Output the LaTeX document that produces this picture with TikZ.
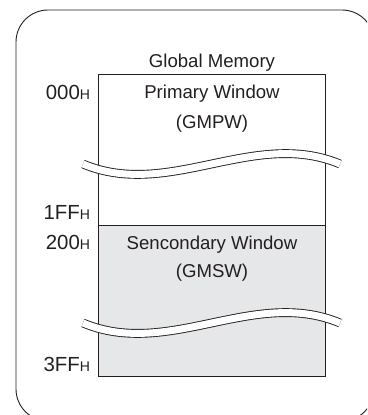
\documentclass[tikz,border=0pt]{standalone}
\usepackage{fontspec}
\setmainfont{Liberation Sans}
\usetikzlibrary{positioning}
\definecolor{ink}{HTML}{231F20}
\definecolor{winfill}{HTML}{E6E7E8}
\newcommand{\hexH}{{\fontsize{14}{14}\selectfont H}}

\begin{document}
\begin{tikzpicture}[x=1pt,y=-1pt,
      every node/.style={text=ink,inner sep=0pt,outer sep=0pt},
      memtext/.style={font=\fontsize{18.6}{22}\selectfont,anchor=base},
      addr/.style={font=\fontsize{20.4}{22}\selectfont,anchor=base east},
      winbox/.style={draw=ink,line width=0.9pt,minimum width=226.7pt,minimum height=151pt,anchor=north west},
      brk/.style={draw=ink,line width=0.9pt,double=white,double distance=7pt},
    ]
        \useasboundingbox (0,0) rectangle (367,415);
        \clip (0,0) rectangle (367,415);
        \draw[ink,line width=0.9pt,rounded corners=32pt] (16,10) rectangle (374,421);

        \node[winbox] (gmpw) at (98.3,74) {};
        \node[winbox,fill=winfill] (gmsw) at (gmpw.south west) {};

        \node[memtext] (title) at (212,67) {Global Memory};
        \node[memtext] (pname) at (212,98) {Primary Window};
        \node[memtext] (pabbr) at (212,128) {(GMPW)};
        \node[memtext] (sname) at (212,249) {Sencondary Window};
        \node[memtext] (sabbr) at (212,277) {(GMSW)};

        \node[addr] (a000) at (90,99) {000\hexH};
        \node[addr] (a1ff) at (90,219) {1FF\hexH};
        \node[addr] (a200) at (90,249) {200\hexH};
        \node[addr] (a3ff) at (90,371) {3FF\hexH};

        \draw[brk] (83,164) .. controls (169,200) and (254,128) .. (340,164);
        \draw[brk] (83,323) .. controls (169,359) and (254,287) .. (340,323);
    \end{tikzpicture}
\end{document}
